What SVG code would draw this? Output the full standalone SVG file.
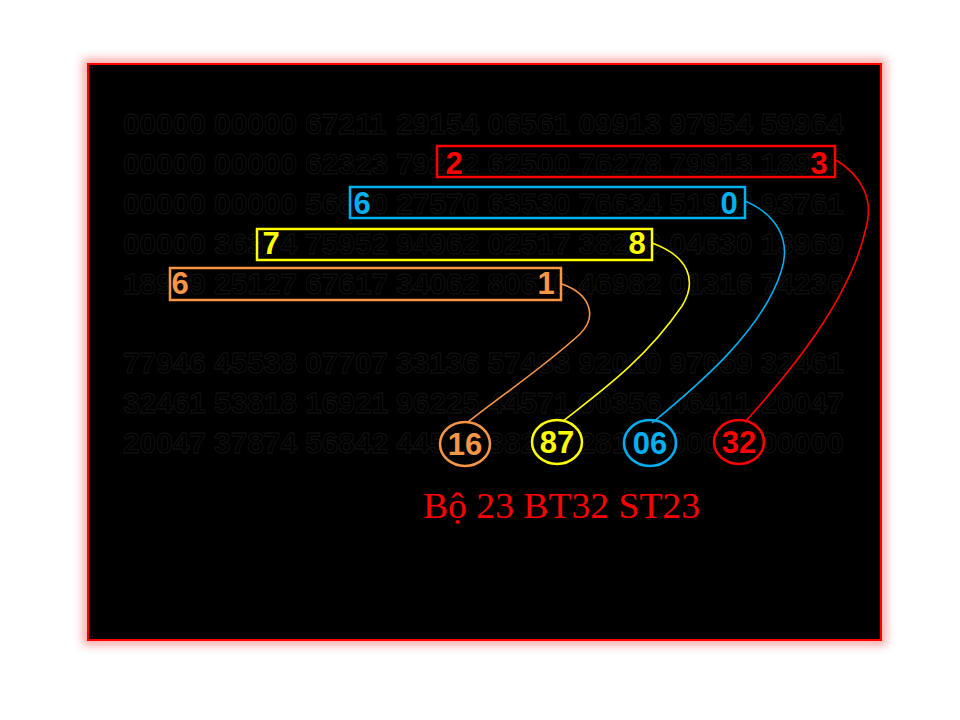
<svg xmlns="http://www.w3.org/2000/svg" width="960" height="720" viewBox="0 0 960 720">
<defs>
<filter id="glow" x="-10%" y="-10%" width="120%" height="120%"><feGaussianBlur stdDeviation="5"/></filter>
<style>
.row{font-family:"Liberation Sans",Arial,sans-serif;font-size:29.8px;font-weight:bold;fill:#000;stroke:#151515;stroke-width:0.8}
.hl{font-family:"Liberation Sans",Arial,sans-serif;font-size:31px;font-weight:bold;text-anchor:middle}
.box{fill:none;stroke-width:2.5}
.con{fill:none;stroke-width:1.6}
.r{fill:#FF0000}.b{fill:#00B0F0}.y{fill:#FFFF00}.o{fill:#F79646}
.sr{stroke:#FF0000}.sb{stroke:#00B0F0}.sy{stroke:#FFFF00}.so{stroke:#F79646}
</style>
</defs>
<rect width="960" height="720" fill="#fff"/>
<rect x="88" y="64" width="793" height="576" fill="none" stroke="#ff6060" stroke-width="10" opacity="0.6" filter="url(#glow)"/>
<rect id="frame" x="88" y="64" width="793" height="576" fill="#000" stroke="#FF0000" stroke-width="2"/>
<g id="rows" class="row">
<text y="134"><tspan x="123">00000</tspan><tspan x="214.1">00000</tspan><tspan x="305.2">67211</tspan><tspan x="396.3">29154</tspan><tspan x="487.4">06561</tspan><tspan x="578.5">09913</tspan><tspan x="669.6">97954</tspan><tspan x="760.7">59964</tspan></text>
<text y="174"><tspan x="123">00000</tspan><tspan x="214.1">00000</tspan><tspan x="305.2">62323</tspan><tspan x="396.3">792</tspan><tspan x="462.6">2</tspan><tspan x="487.4">62500</tspan><tspan x="578.5">76278</tspan><tspan x="669.6">79913</tspan><tspan x="760.7">189</tspan><tspan x="830">3</tspan></text>
<text y="214"><tspan x="123">00000</tspan><tspan x="214.1">00000</tspan><tspan x="305.2">568</tspan><tspan x="371.5">0</tspan><tspan x="396.3">27570</tspan><tspan x="487.4">63530</tspan><tspan x="578.5">76634</tspan><tspan x="669.6">519</tspan><tspan x="735.9">2</tspan><tspan x="760.7">93761</tspan></text>
<text y="254"><tspan x="123">00000</tspan><tspan x="214.1">363</tspan><tspan x="280.4">4</tspan><tspan x="305.2">75952</tspan><tspan x="396.3">94962</tspan><tspan x="487.4">02517</tspan><tspan x="578.5">382</tspan><tspan x="644.8">0</tspan><tspan x="669.6">04630</tspan><tspan x="760.7">13969</tspan></text>
<text y="294"><tspan x="123">189</tspan><tspan x="189.3">9</tspan><tspan x="214.1">25127</tspan><tspan x="305.2">67617</tspan><tspan x="396.3">34062</tspan><tspan x="487.4">806</tspan><tspan x="553.7">0</tspan><tspan x="578.5">46982</tspan><tspan x="669.6">01316</tspan><tspan x="760.7">74236</tspan></text>
<text y="373"><tspan x="123">77946</tspan><tspan x="214.1">45538</tspan><tspan x="305.2">07707</tspan><tspan x="396.3">33136</tspan><tspan x="487.4">57483</tspan><tspan x="578.5">92010</tspan><tspan x="669.6">97059</tspan><tspan x="760.7">32461</tspan></text>
<text y="413"><tspan x="123">32461</tspan><tspan x="214.1">53818</tspan><tspan x="305.2">16921</tspan><tspan x="396.3">96225</tspan><tspan x="487.4">44571</tspan><tspan x="578.5">00356</tspan><tspan x="669.6">46411</tspan><tspan x="760.7">20047</tspan></text>
<text y="453"><tspan x="123">20047</tspan><tspan x="214.1">37874</tspan><tspan x="305.2">56842</tspan><tspan x="396.3">445</tspan><tspan x="487.4">382</tspan><tspan x="578.5">281</tspan><tspan x="669.6">000</tspan><tspan x="760.7">00000</tspan></text>
</g>
<g id="connectors">
<path class="con so" d="M562,284 C590,294 598,316 580,334 C545,366 505,393 468,422"/>
<path class="con sy" d="M652,243 C688,256 698,280 682,306 C645,360 600,392 563,421"/>
<path class="con sb" d="M745,201 C776,214 792,240 781,272 C762,330 702,382 652,423"/>
<path class="con sr" d="M836,160 C862,176 874,200 866,228 C850,300 790,372 745,422"/>
</g>
<g id="box-red">
<rect class="box sr" x="437" y="146" width="398" height="31"/>
<text class="hl r" x="454" y="174">2</text>
<text class="hl r" x="819" y="174">3</text>
</g>
<g id="box-blue">
<rect class="box sb" x="350" y="187" width="395" height="31"/>
<text class="hl b" x="362" y="214">6</text>
<text class="hl b" x="729" y="214">0</text>
</g>
<g id="box-yellow">
<rect class="box sy" x="257" y="229" width="395" height="31"/>
<text class="hl y" x="271" y="254">7</text>
<text class="hl y" x="637" y="254">8</text>
</g>
<g id="box-orange">
<rect class="box so" x="170" y="268" width="391" height="32"/>
<text class="hl o" x="180" y="294">6</text>
<text class="hl o" x="546" y="294">1</text>
</g>
<g id="c16">
<ellipse class="box so" cx="465" cy="444" rx="25" ry="22"/>
<text class="hl o" x="465" y="455">16</text>
</g>
<g id="c87">
<ellipse class="box sy" cx="557" cy="442" rx="25" ry="22"/>
<text class="hl y" x="557" y="453">87</text>
</g>
<g id="c06">
<ellipse class="box sb" cx="650" cy="443" rx="26" ry="23"/>
<text class="hl b" x="650" y="454">06</text>
</g>
<g id="c32">
<ellipse class="box sr" cx="739" cy="442" rx="25" ry="22"/>
<text class="hl r" x="739" y="453">32</text>
</g>
<text id="caption" x="423" y="518" textLength="277" lengthAdjust="spacingAndGlyphs" style="font-family:'Liberation Serif','Times New Roman',serif;font-size:35px;fill:#FF0000">Bộ 23 BT32 ST23</text>
</svg>
